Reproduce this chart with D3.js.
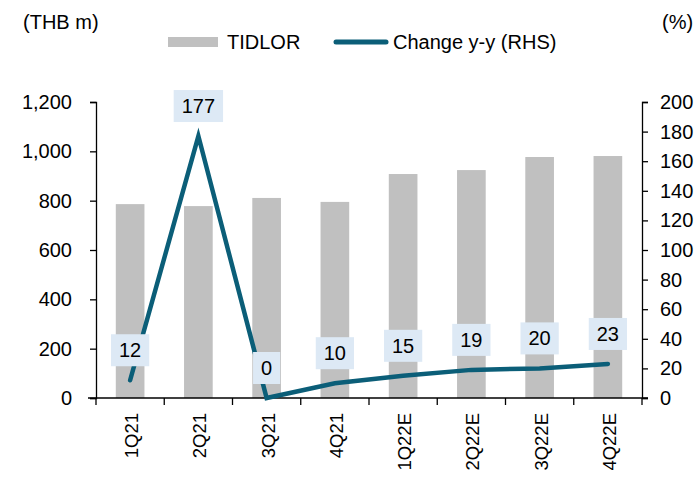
<!DOCTYPE html>
<html>
<head>
<meta charset="utf-8">
<script src="https://cdn.jsdelivr.net/npm/d3@7"></script>
<style>
  body { margin: 0; background: #fff; }
  svg { display: block; font-family: "Liberation Sans", Arial, sans-serif; }
</style>
</head>
<body>
<svg id="chart" width="699" height="479"></svg>
<script>
// TIDLOR quarterly values (THB m) with y-y change on the right axis

const quarters = ['1Q21', '2Q21', '3Q21', '4Q21', '1Q22E', '2Q22E', '3Q22E', '4Q22E'];
const tidlor   = [786, 778, 811, 795, 908, 924, 977, 981];
const changeYY = [12, 177, 0, 10, 15, 19, 20, 23];
const leftTicks  = [0, 200, 400, 600, 800, 1000, 1200];
const rightTicks = [0, 20, 40, 60, 80, 100, 120, 140, 160, 180, 200];

const BAR_COLOR  = '#c0c0c0';
const LINE_COLOR = '#0b5e78';
const LABEL_BG   = '#dde9f5';

const svg = d3.select('#chart');

const M = { left: 96, right: 642, top: 102, bottom: 398 };

// ── Scales ────────────────────────────────────────────────────────────────
const x = d3.scaleBand().domain(quarters).range([M.left, M.right]).padding(0);
const yL = d3.scaleLinear().domain([0, 1200]).range([M.bottom, M.top]);
const yR = d3.scaleLinear().domain([0, 200]).range([M.bottom, M.top]);

const barW = x.bandwidth() * 0.42;
const cx = q => x(q) + x.bandwidth() / 2;

// ── Bars ──────────────────────────────────────────────────────────────────
svg.append('g').selectAll('rect')
    .data(quarters)
    .join('rect')
    .attr('x', q => cx(q) - barW / 2)
    .attr('y', (q, i) => yL(tidlor[i]))
    .attr('width', barW)
    .attr('height', (q, i) => M.bottom - yL(tidlor[i]))
    .attr('fill', BAR_COLOR);

// ── Axes ──────────────────────────────────────────────────────────────────
const axisStyle = g => {
    g.selectAll('path, line').attr('stroke', '#000').attr('stroke-width', 1.3);
    g.selectAll('text').attr('fill', '#000').attr('font-size', '20px');
};

svg.append('g')
    .attr('transform', `translate(${M.left},0)`)
    .call(d3.axisLeft(yL).tickValues(leftTicks).tickFormat(d3.format(',')).tickSize(6).tickSizeOuter(6).tickPadding(18))
    .call(axisStyle);

svg.append('g')
    .attr('transform', `translate(${M.right},0)`)
    .call(d3.axisRight(yR).tickValues(rightTicks).tickSize(6).tickSizeOuter(6).tickPadding(12))
    .call(axisStyle);

// x axis: ticks at band edges
const xAxisG = svg.append('g');
xAxisG.append('line')
    .attr('x1', M.left - 8).attr('x2', M.right + 6)
    .attr('y1', M.bottom).attr('y2', M.bottom)
    .attr('stroke', '#000').attr('stroke-width', 1.3);
xAxisG.selectAll('.xtick')
    .data(quarters.concat(['end']))
    .join('line')
    .attr('class', 'xtick')
    .attr('x1', (q, i) => M.left + i * x.bandwidth())
    .attr('x2', (q, i) => M.left + i * x.bandwidth())
    .attr('y1', M.bottom).attr('y2', M.bottom + 7)
    .attr('stroke', '#000').attr('stroke-width', 1.3);
xAxisG.selectAll('.xlab')
    .data(quarters)
    .join('text')
    .attr('class', 'xlab')
    .attr('transform', q => `translate(${cx(q) + 8},${M.bottom + 15}) rotate(-90)`)
    .attr('text-anchor', 'end')
    .attr('font-size', '18.5px')
    .attr('fill', '#000')
    .text(q => q);

// ── Line ──────────────────────────────────────────────────────────────────
const line = d3.line()
    .x((d, i) => cx(quarters[i]))
    .y(d => yR(d));

svg.append('path')
    .datum(changeYY)
    .attr('d', line)
    .attr('fill', 'none')
    .attr('stroke', LINE_COLOR)
    .attr('stroke-width', 4.5)
    .attr('stroke-linejoin', 'miter')
    .attr('stroke-linecap', 'round');

// ── Data labels ───────────────────────────────────────────────────────────
const labG = svg.append('g');
changeYY.forEach((v, i) => {
    const px = cx(quarters[i]);
    const py = yR(v) - 30;
    const g = labG.append('g');
    const t = g.append('text')
        .attr('x', px).attr('y', py)
        .attr('text-anchor', 'middle')
        .attr('dominant-baseline', 'central')
        .attr('font-size', '20px')
        .attr('fill', '#000')
        .text(v);
    const w = t.node().getComputedTextLength() + 16;
    g.insert('rect', 'text')
        .attr('x', px - w / 2).attr('y', py - 16)
        .attr('width', w).attr('height', 32)
        .attr('fill', LABEL_BG);
});

// ── Axis titles ───────────────────────────────────────────────────────────
svg.append('text').attr('x', 23).attr('y', 29)
    .attr('font-size', '20px').attr('fill', '#000').text('(THB m)');
svg.append('text').attr('x', 662).attr('y', 29)
    .attr('font-size', '20px').attr('fill', '#000').text('(%)');

// ── Legend ────────────────────────────────────────────────────────────────
const legG = svg.append('g');
legG.append('rect').attr('x', 168).attr('y', 37).attr('width', 50).attr('height', 10)
    .attr('fill', BAR_COLOR);
legG.append('text').attr('x', 227).attr('y', 42).attr('dominant-baseline', 'central')
    .attr('font-size', '20px').attr('fill', '#000').text('TIDLOR');
legG.append('line').attr('x1', 336).attr('x2', 386).attr('y1', 42).attr('y2', 42)
    .attr('stroke', LINE_COLOR).attr('stroke-width', 5).attr('stroke-linecap', 'round');
legG.append('text').attr('x', 393).attr('y', 42).attr('dominant-baseline', 'central')
    .attr('font-size', '20px').attr('fill', '#000').text('Change y-y (RHS)');
</script>
</body>
</html>
